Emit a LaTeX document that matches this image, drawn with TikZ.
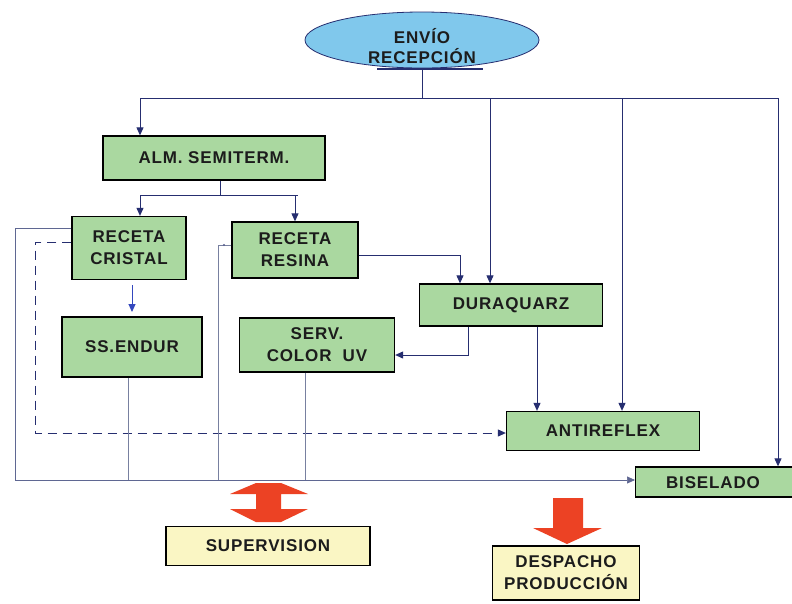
\documentclass[tikz,border=0pt]{standalone}
\usepackage{fontspec}
\newfontfamily\lbl{Liberation Sans}[LetterSpace=5]
\usetikzlibrary{arrows.meta,shapes.geometric}
\definecolor{boxgreen}{RGB}{170,216,160}
\definecolor{ovalblue}{RGB}{128,200,236}
\definecolor{noteyellow}{RGB}{250,246,196}
\definecolor{navy}{RGB}{38,46,112}
\definecolor{brightblue}{RGB}{52,72,190}
\definecolor{faint}{RGB}{120,128,160}
\definecolor{inkdark}{RGB}{28,28,28}
\definecolor{flowred}{RGB}{236,66,36}
\begin{document}
\begin{tikzpicture}[x=1pt,y=-1pt,
  lbltext/.style={font=\lbl\bfseries\fontsize{17}{22}\selectfont, text=inkdark, align=center, inner sep=0pt},
  box/.style={lbltext, draw=black, line width=1.3pt, fill=boxgreen},
  notebox/.style={lbltext, draw=black, line width=1.3pt, fill=noteyellow},
  conn/.style={draw=navy, line width=1pt},
  arr/.style={conn, -{Triangle[length=8pt,width=7pt]}},
  bluearr/.style={draw=brightblue, line width=1pt, -{Triangle[length=8pt,width=7pt]}},
  dasharr/.style={draw=navy, line width=1pt, dash pattern=on 9pt off 6pt, -{Triangle[length=8pt,width=7pt]}},
  thin/.style={draw=faint, line width=0.7pt},
  thinarr/.style={thin, -{Triangle[length=8pt,width=7pt]}, draw=faint!70!navy}]
\useasboundingbox (0,0) rectangle (792,603);
\fill[white] (0,0) rectangle (792,603);

% start node
\node[ellipse, draw=navy, line width=0.8pt, fill=ovalblue,
      minimum width=234pt, minimum height=56pt] (env) at (422,40) {};
\node[lbltext, font=\lbl\bfseries\fontsize{17}{20}\selectfont] (envtext) at (422,46) {ENVÍO\\RECEPCIÓN};
\draw[navy, line width=2.6pt] (377,69) -- (483,69);

% process boxes
\node[box, minimum width=222pt, minimum height=44pt] (alm) at (214,158) {ALM. SEMITERM.};
\node[box, minimum width=114pt, minimum height=63pt] (cristal) at (129,248) {RECETA\\CRISTAL};
\node[box, minimum width=126pt, minimum height=56pt] (resina) at (295,250) {RECETA\\RESINA};
\node[box, minimum width=140pt, minimum height=60pt] (ss) at (132,347) {SS.ENDUR};
\node[box, minimum width=155pt, minimum height=54pt] (serv) at (317,345) {SERV.\\COLOR\ \ UV};
\node[box, minimum width=183pt, minimum height=42pt] (dura) at (511,305) {DURAQUARZ};
\node[box, minimum width=193pt, minimum height=39pt] (anti) at (603,431) {ANTIREFLEX};
\node[box, minimum width=160pt, minimum height=30pt, anchor=west] (bisel) at (635,482) {};
\node[lbltext] (biseltext) at (713,483) {BISELADO};

% output boxes
\node[notebox, minimum width=204pt, minimum height=39pt] (sup) at (268,546) {SUPERVISION};
\node[notebox, minimum width=147pt, minimum height=54pt] (desp) at (566,573) {DESPACHO\\PRODUCCIÓN};

% distribution bus under the start node
\coordinate (bus) at (422,98);
\coordinate (busL) at (140,98);
\coordinate (busR) at (778,98);
\draw[conn] (env.south) -- (bus);
\draw[conn] (busL) -- (busR);
\draw[arr] (busL) -- (busL |- alm.north);
\draw[arr] (490,98) -- (490,0 |- dura.north);
\draw[arr] (622,98) -- (622,0 |- anti.north);
\draw[arr] (busR) -- (busR |- bisel.north);

% split below ALM. SEMITERM.
\coordinate (split) at (220,195);
\draw[conn] (split |- alm.south) -- (split);
\draw[conn] (140,195) -- (298,195);
\draw[arr] (140,195) -- (140,0 |- cristal.north);
\draw[arr] (295,195) -- (295,0 |- resina.north);

% recipe flows
\coordinate (blueStart) at (132,285);
\coordinate (blueEnd) at (132,312);
\draw[bluearr] (blueStart) -- (blueEnd);
\draw[arr] (resina.east |- 0,255) -- (460,255) -- (460,0 |- dura.north);
\draw[arr] (468,0 |- dura.south) -- (468,355) -- (serv.east |- 0,355);
\draw[arr] (537,0 |- dura.south) -- (537,0 |- anti.north);
\draw[dasharr] (cristal.west |- 0,242) -- (35,242) -- (35,433) -- (anti.west |- 0,433);

% return lines to BISELADO
\draw[thinarr] (cristal.west |- 0,228) -- (15,228) -- (15,480) -- (bisel.west |- 0,480);
\draw[thin] (128,0 |- ss.south) -- (128,480);
\draw[thin] (305,0 |- serv.south) -- (305,480);
\draw[thin] (resina.west |- 0,245) -- (218,245) -- (218,480);
\fill[faint!60!navy] (224,245) circle (1.2pt);

% large red arrows
\fill[flowred] (256,483) -- (281,483) -- (308,494) -- (281,494) -- (281,509)
  -- (308,509) -- (281,522) -- (256,522) -- (230,509) -- (256,509)
  -- (256,494) -- (230,494) -- cycle;
\fill[flowred] (553,498) -- (583,498) -- (583,528) -- (602,528) -- (567,544)
  -- (533,528) -- (553,528) -- cycle;
\end{tikzpicture}
\end{document}
